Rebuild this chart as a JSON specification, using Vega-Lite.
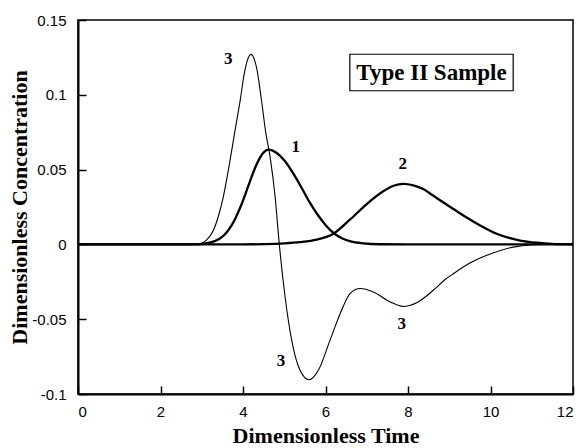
{
  "$schema": "https://vega.github.io/schema/vega-lite/v6.json",
  "width": 495,
  "height": 374,
  "autosize": "none",
  "padding": {"left": 78, "top": 20, "right": 6, "bottom": 54},
  "background": "white",
  "config": {
    "view": {"stroke": "black", "strokeWidth": 1.5},
    "axis": {
      "grid": false,
      "domainColor": "black",
      "domainWidth": 2,
      "tickColor": "black",
      "tickWidth": 1.5,
      "tickSize": -8,
      "labelFont": "Liberation Sans",
      "labelFontSize": 15,
      "labelColor": "black",
      "titleFont": "Liberation Serif",
      "titleFontSize": 22,
      "titleFontWeight": "bold",
      "titleColor": "black"
    }
  },
  "datasets": {
    "curves": [
      {"t": 0, "c": 0, "curve": "1"},
      {"t": 2.8, "c": 0, "curve": "1"},
      {"t": 3.02, "c": 0.0004, "curve": "1"},
      {"t": 3.22, "c": 0.0013, "curve": "1"},
      {"t": 3.42, "c": 0.0036, "curve": "1"},
      {"t": 3.52, "c": 0.0056, "curve": "1"},
      {"t": 3.62, "c": 0.0086, "curve": "1"},
      {"t": 3.72, "c": 0.0125, "curve": "1"},
      {"t": 3.82, "c": 0.0176, "curve": "1"},
      {"t": 3.92, "c": 0.0238, "curve": "1"},
      {"t": 4.02, "c": 0.0308, "curve": "1"},
      {"t": 4.12, "c": 0.0384, "curve": "1"},
      {"t": 4.22, "c": 0.046, "curve": "1"},
      {"t": 4.32, "c": 0.0529, "curve": "1"},
      {"t": 4.42, "c": 0.0584, "curve": "1"},
      {"t": 4.52, "c": 0.062, "curve": "1"},
      {"t": 4.62, "c": 0.0633, "curve": "1"},
      {"t": 4.81, "c": 0.0613, "curve": "1"},
      {"t": 5.01, "c": 0.0559, "curve": "1"},
      {"t": 5.21, "c": 0.0478, "curve": "1"},
      {"t": 5.41, "c": 0.0384, "curve": "1"},
      {"t": 5.61, "c": 0.0284, "curve": "1"},
      {"t": 5.81, "c": 0.0198, "curve": "1"},
      {"t": 6.01, "c": 0.0127, "curve": "1"},
      {"t": 6.21, "c": 0.0073, "curve": "1"},
      {"t": 6.41, "c": 0.004, "curve": "1"},
      {"t": 6.61, "c": 0.002, "curve": "1"},
      {"t": 6.91, "c": 0.0007, "curve": "1"},
      {"t": 7.31, "c": 0.0001, "curve": "1"},
      {"t": 8, "c": 0, "curve": "1"},
      {"t": 12, "c": 0, "curve": "1"},
      {"t": 0, "c": 0, "curve": "2"},
      {"t": 4.0, "c": 0, "curve": "2"},
      {"t": 4.5, "c": 0.0002, "curve": "2"},
      {"t": 5.0, "c": 0.0007, "curve": "2"},
      {"t": 5.38, "c": 0.0015, "curve": "2"},
      {"t": 5.79, "c": 0.0032, "curve": "2"},
      {"t": 6.19, "c": 0.0071, "curve": "2"},
      {"t": 6.59, "c": 0.0165, "curve": "2"},
      {"t": 7.0, "c": 0.027, "curve": "2"},
      {"t": 7.4, "c": 0.0355, "curve": "2"},
      {"t": 7.65, "c": 0.0392, "curve": "2"},
      {"t": 7.89, "c": 0.0405, "curve": "2"},
      {"t": 8.13, "c": 0.0395, "curve": "2"},
      {"t": 8.37, "c": 0.037, "curve": "2"},
      {"t": 8.6, "c": 0.0328, "curve": "2"},
      {"t": 8.86, "c": 0.028, "curve": "2"},
      {"t": 9.15, "c": 0.0228, "curve": "2"},
      {"t": 9.42, "c": 0.018, "curve": "2"},
      {"t": 9.75, "c": 0.0127, "curve": "2"},
      {"t": 10.15, "c": 0.0071, "curve": "2"},
      {"t": 10.45, "c": 0.0043, "curve": "2"},
      {"t": 10.72, "c": 0.0026, "curve": "2"},
      {"t": 11.12, "c": 0.0011, "curve": "2"},
      {"t": 11.5, "c": 0.0003, "curve": "2"},
      {"t": 12, "c": 0, "curve": "2"},
      {"t": 0, "c": 0, "curve": "3"},
      {"t": 2.7, "c": 0, "curve": "3"},
      {"t": 2.96, "c": 0.0005, "curve": "3"},
      {"t": 3.12, "c": 0.003, "curve": "3"},
      {"t": 3.28, "c": 0.0093, "curve": "3"},
      {"t": 3.4, "c": 0.0185, "curve": "3"},
      {"t": 3.52, "c": 0.0315, "curve": "3"},
      {"t": 3.66, "c": 0.052, "curve": "3"},
      {"t": 3.8, "c": 0.075, "curve": "3"},
      {"t": 3.93, "c": 0.096, "curve": "3"},
      {"t": 4.05, "c": 0.117, "curve": "3"},
      {"t": 4.19, "c": 0.127, "curve": "3"},
      {"t": 4.33, "c": 0.118, "curve": "3"},
      {"t": 4.45, "c": 0.096, "curve": "3"},
      {"t": 4.55, "c": 0.075, "curve": "3"},
      {"t": 4.66, "c": 0.058, "curve": "3"},
      {"t": 4.78, "c": 0.0315, "curve": "3"},
      {"t": 4.88, "c": 0, "curve": "3"},
      {"t": 5.02, "c": -0.035, "curve": "3"},
      {"t": 5.18, "c": -0.064, "curve": "3"},
      {"t": 5.38, "c": -0.084, "curve": "3"},
      {"t": 5.6, "c": -0.0905, "curve": "3"},
      {"t": 5.83, "c": -0.084, "curve": "3"},
      {"t": 6.11, "c": -0.064, "curve": "3"},
      {"t": 6.39, "c": -0.044, "curve": "3"},
      {"t": 6.59, "c": -0.033, "curve": "3"},
      {"t": 6.84, "c": -0.0295, "curve": "3"},
      {"t": 7.16, "c": -0.0318, "curve": "3"},
      {"t": 7.56, "c": -0.0384, "curve": "3"},
      {"t": 7.89, "c": -0.0415, "curve": "3"},
      {"t": 8.21, "c": -0.039, "curve": "3"},
      {"t": 8.6, "c": -0.031, "curve": "3"},
      {"t": 8.9, "c": -0.0235, "curve": "3"},
      {"t": 9.1, "c": -0.0196, "curve": "3"},
      {"t": 9.5, "c": -0.0125, "curve": "3"},
      {"t": 9.91, "c": -0.0073, "curve": "3"},
      {"t": 10.55, "c": -0.0018, "curve": "3"},
      {"t": 11.04, "c": -0.0002, "curve": "3"},
      {"t": 11.3, "c": 0, "curve": "3"},
      {"t": 12, "c": 0, "curve": "3"}
    ],
    "labels": [
      {"t": 3.64, "c": 0.124, "text": "3"},
      {"t": 5.28, "c": 0.0653, "text": "1"},
      {"t": 7.87, "c": 0.054, "text": "2"},
      {"t": 7.85, "c": -0.0535, "text": "3"},
      {"t": 4.92, "c": -0.0778, "text": "3"}
    ],
    "box": [
      {"x1": 6.59, "x2": 10.55, "y1": 0.1027, "y2": 0.1271, "xm": 8.57, "ym": 0.1145, "text": "Type II Sample"}
    ]
  },
  "layer": [
    {
      "mark": {"type": "rule", "color": "black", "strokeWidth": 1.4},
      "encoding": {
        "y": {"datum": 0, "type": "quantitative"}
      }
    },
    {
      "data": {"name": "curves"},
      "transform": [{"filter": "datum.curve !== '3'"}],
      "mark": {"type": "line", "color": "black", "strokeWidth": 2.3, "interpolate": "monotone"},
      "encoding": {
        "x": {
          "field": "t", "type": "quantitative",
          "scale": {"domain": [0, 12], "nice": false, "zero": false},
          "axis": {
            "values": [0, 2, 4, 6, 8, 10, 12],
            "labelPadding": 18,
            "labelBaseline": "top",
            "title": "Dimensionless Time",
            "titleX": 247.5,
            "titleY": 48,
            "titleBaseline": "alphabetic"
          }
        },
        "y": {
          "field": "c", "type": "quantitative",
          "scale": {"domain": [-0.1, 0.15], "nice": false, "zero": false},
          "axis": {
            "values": [-0.1, -0.05, 0, 0.05, 0.1, 0.15],
            "format": "~g",
            "labelExpr": "replace(datum.label, '−', '-')",
            "labelPadding": 20,
            "title": "Dimensionless Concentration",
            "titleX": -52,
            "titleY": 187,
            "titleBaseline": "alphabetic",
            "titleAlign": "center"
          }
        },
        "detail": {"field": "curve"}
      }
    },
    {
      "data": {"name": "curves"},
      "transform": [{"filter": "datum.curve === '3'"}],
      "mark": {"type": "line", "color": "black", "strokeWidth": 1.1, "interpolate": "monotone"},
      "encoding": {
        "x": {"field": "t", "type": "quantitative"},
        "y": {"field": "c", "type": "quantitative"}
      }
    },
    {
      "data": {"name": "box"},
      "mark": {"type": "rect", "fill": "white", "stroke": "black", "strokeWidth": 1.2},
      "encoding": {
        "x": {"field": "x1", "type": "quantitative"},
        "x2": {"field": "x2"},
        "y": {"field": "y1", "type": "quantitative"},
        "y2": {"field": "y2"}
      }
    },
    {
      "data": {"name": "box"},
      "mark": {"type": "text", "font": "Liberation Serif", "fontWeight": "bold", "fontSize": 23, "color": "black", "align": "center", "baseline": "middle"},
      "encoding": {
        "x": {"field": "xm", "type": "quantitative"},
        "y": {"field": "ym", "type": "quantitative"},
        "text": {"field": "text"}
      }
    },
    {
      "data": {"name": "labels"},
      "mark": {"type": "text", "font": "Liberation Serif", "fontWeight": "bold", "fontSize": 17, "color": "black", "align": "center", "baseline": "middle"},
      "encoding": {
        "x": {"field": "t", "type": "quantitative"},
        "y": {"field": "c", "type": "quantitative"},
        "text": {"field": "text"}
      }
    }
  ]
}
